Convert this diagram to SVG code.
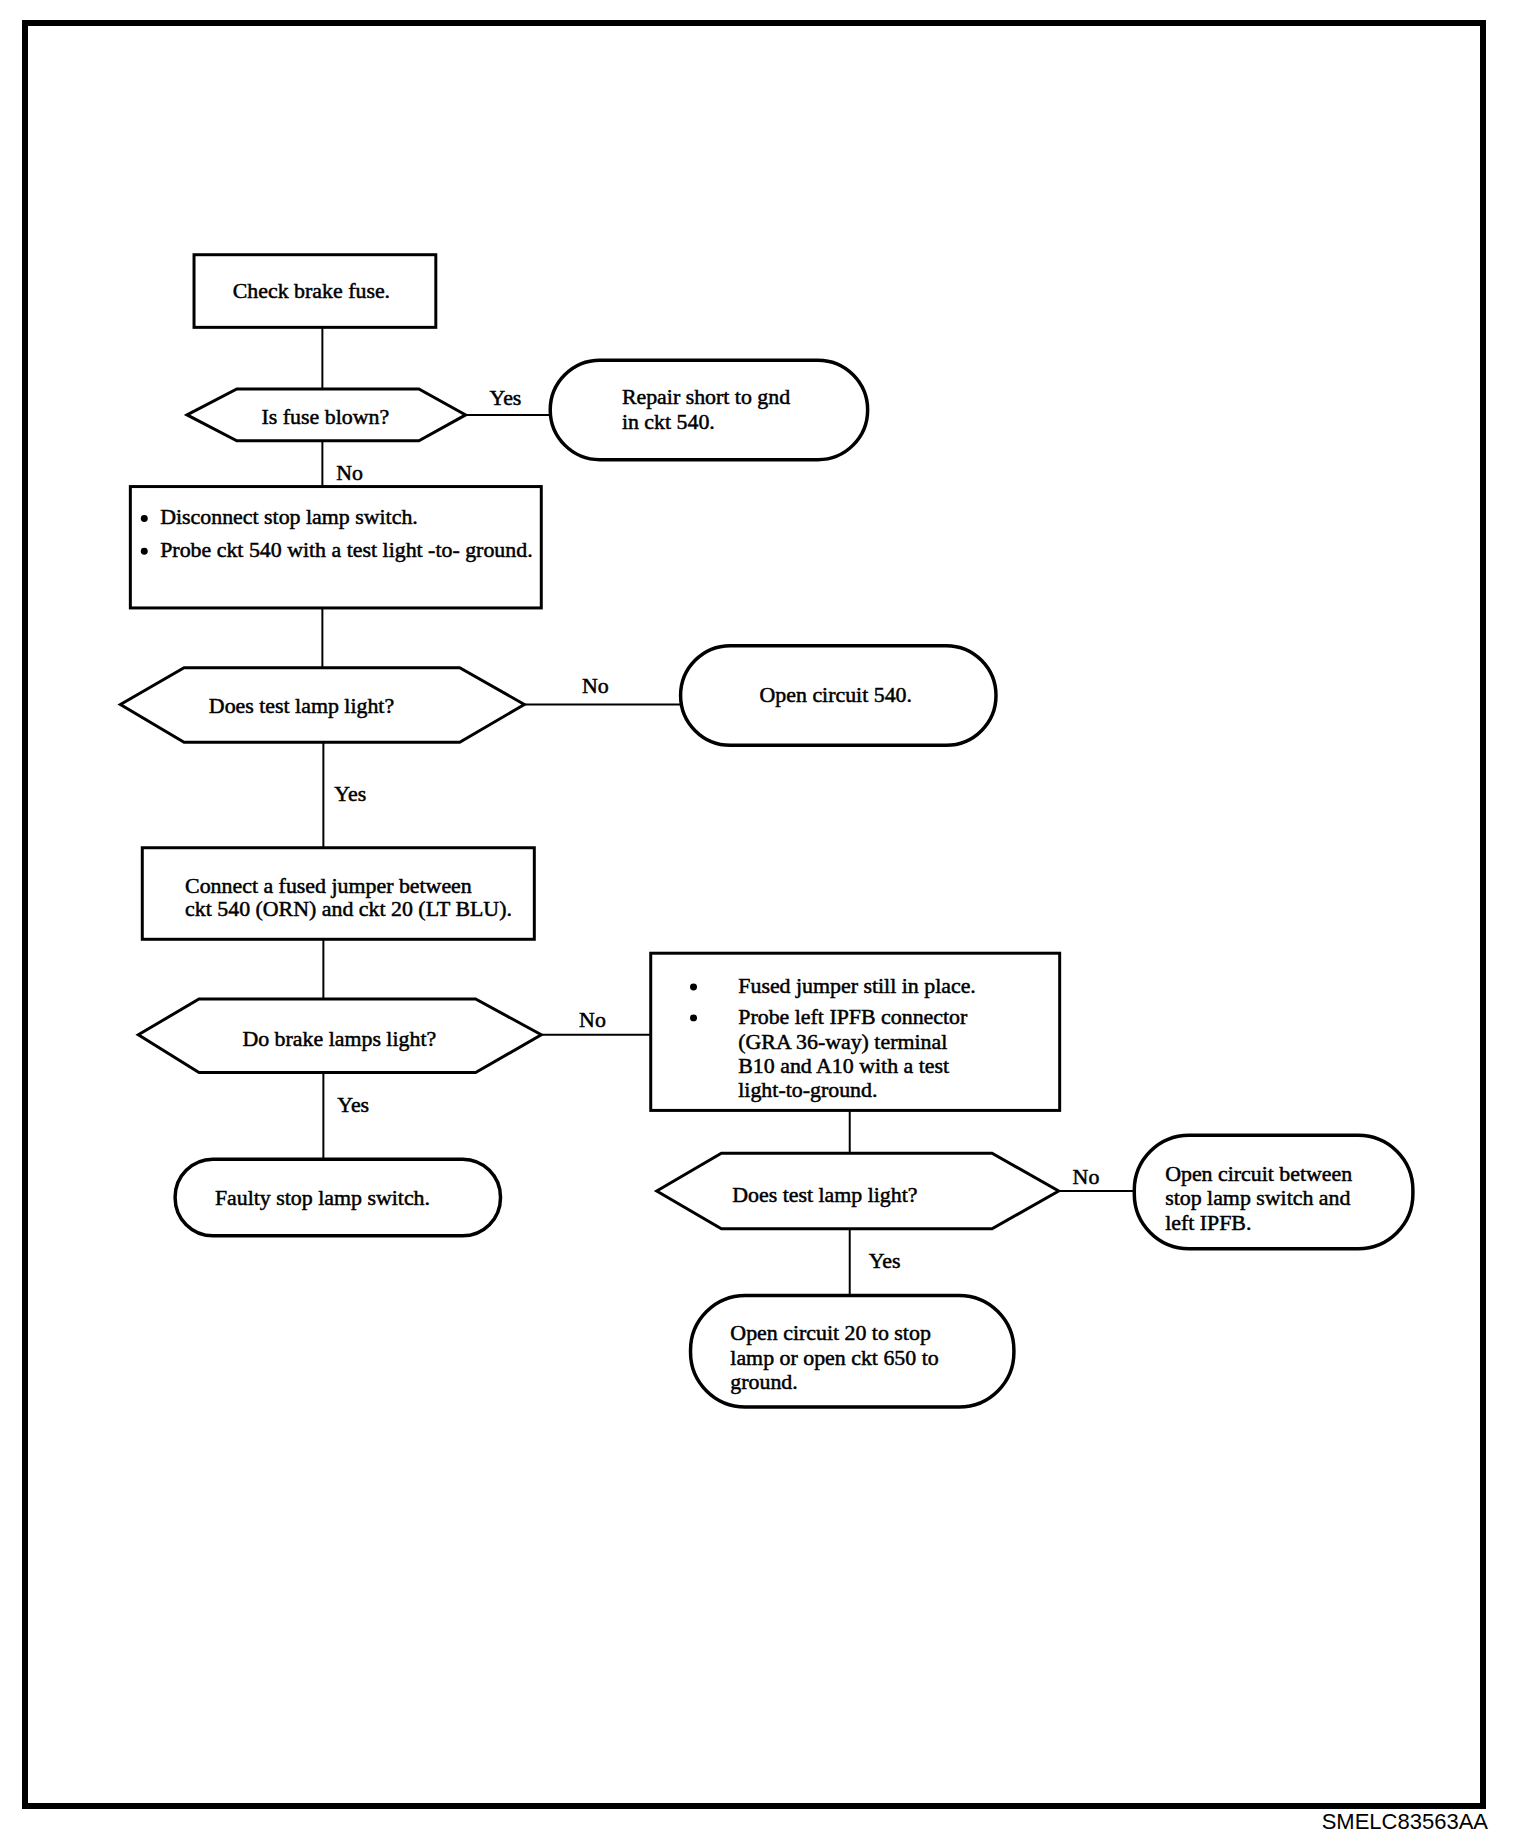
<svg xmlns="http://www.w3.org/2000/svg" width="1520" height="1838" viewBox="0 0 1520 1838">
<style>
.b{fill:#fff;stroke:#000;stroke-width:3}
.t{fill:#fff;stroke:#000;stroke-width:3.5}
.c{fill:none;stroke:#000;stroke-width:2}
text{font-family:"Liberation Serif","Times New Roman",serif;font-size:22px;fill:#000;stroke:#000;stroke-width:0.5}
.m{text-anchor:middle}
</style>
<rect x="0" y="0" width="1520" height="1838" fill="#fff"/>
<rect x="25" y="23" width="1458" height="1783" fill="none" stroke="#000" stroke-width="6"/>
<g transform="scale(0.995)">
<g id="connectors">
<line class="c" x1="324" y1="329" x2="324" y2="391"/>
<line class="c" x1="468" y1="417" x2="553" y2="417"/>
<line class="c" x1="324" y1="443" x2="324" y2="489"/>
<line class="c" x1="324" y1="611" x2="324" y2="671"/>
<line class="c" x1="527" y1="708" x2="684" y2="708"/>
<line class="c" x1="325" y1="746" x2="325" y2="852"/>
<line class="c" x1="325" y1="944" x2="325" y2="1004"/>
<line class="c" x1="544" y1="1040" x2="654" y2="1040"/>
<line class="c" x1="325" y1="1078" x2="325" y2="1165"/>
<line class="c" x1="854" y1="1116" x2="854" y2="1159"/>
<line class="c" x1="1064" y1="1197" x2="1140" y2="1197"/>
<line class="c" x1="854" y1="1235" x2="854" y2="1302"/>
<text x="492" y="407">Yes</text>
<text x="338" y="482">No</text>
<text x="585" y="696">No</text>
<text x="336" y="805">Yes</text>
<text x="582" y="1032">No</text>
<text x="339" y="1118">Yes</text>
<text x="1078" y="1190">No</text>
<text x="873" y="1274">Yes</text>
</g>
<g id="n1">
<rect class="b" x="195" y="256" width="243" height="73"/>
<text class="m" x="313" y="299">Check brake fuse.</text>
</g>
<g id="n2">
<polygon class="b" points="188,417 238,391 421,391 468,417 421,443 238,443"/>
<text class="m" x="327" y="426">Is fuse blown?</text>
</g>
<g id="n3">
<rect class="t" x="553" y="362" width="319" height="100" rx="50" ry="50"/>
<text x="625" y="406">Repair short to gnd</text>
<text x="625" y="431">in ckt 540.</text>
</g>
<g id="n4">
<rect class="b" x="131" y="489" width="413" height="122"/>
<circle cx="145" cy="521" r="3.5"/>
<circle cx="145" cy="554" r="3.5"/>
<text x="161" y="527">Disconnect stop lamp switch.</text>
<text x="161" y="560">Probe ckt 540 with a test light -to- ground.</text>
</g>
<g id="n5">
<polygon class="b" points="121,708 185,671 462,671 527,708 462,746 185,746"/>
<text class="m" x="303" y="717">Does test lamp light?</text>
</g>
<g id="n6">
<rect class="t" x="684" y="649" width="317" height="100" rx="50" ry="50"/>
<text class="m" x="840" y="706">Open circuit 540.</text>
</g>
<g id="n7">
<rect class="b" x="143" y="852" width="394" height="92"/>
<text x="186" y="897">Connect a fused jumper between</text>
<text x="186" y="921">ckt 540 (ORN) and ckt 20 (LT BLU).</text>
</g>
<g id="n8">
<polygon class="b" points="139,1040 200,1004 478,1004 544,1040 478,1078 200,1078"/>
<text class="m" x="341" y="1051">Do brake lamps light?</text>
</g>
<g id="n9">
<rect class="b" x="654" y="958" width="411" height="158"/>
<circle cx="697" cy="992" r="3.5"/>
<circle cx="697" cy="1023" r="3.5"/>
<text x="742" y="998">Fused jumper still in place.</text>
<text x="742" y="1029">Probe left IPFB connector</text>
<text x="742" y="1054">(GRA 36-way) terminal</text>
<text x="742" y="1078">B10 and A10 with a test</text>
<text x="742" y="1103">light-to-ground.</text>
</g>
<g id="n10">
<rect class="t" x="176" y="1165" width="327" height="77" rx="38" ry="38"/>
<text x="216" y="1211">Faulty stop lamp switch.</text>
</g>
<g id="n11">
<polygon class="b" points="660,1197 725,1159 997,1159 1064,1197 997,1235 725,1235"/>
<text class="m" x="829" y="1208">Does test lamp light?</text>
</g>
<g id="n12">
<rect class="t" x="1140" y="1141" width="280" height="114" rx="55" ry="55"/>
<text x="1171" y="1187">Open circuit between</text>
<text x="1171" y="1211">stop lamp switch and</text>
<text x="1171" y="1236">left IPFB.</text>
</g>
<g id="n13">
<rect class="t" x="694" y="1302" width="325" height="112" rx="55" ry="55"/>
<text x="734" y="1347">Open circuit 20 to stop</text>
<text x="734" y="1372">lamp or open ckt 650 to</text>
<text x="734" y="1396">ground.</text>
</g>
</g>
<text x="1488" y="1829" text-anchor="end" style="font-family:'Liberation Sans',Arial,sans-serif;font-size:22px;stroke:none">SMELC83563AA</text>
</svg>
